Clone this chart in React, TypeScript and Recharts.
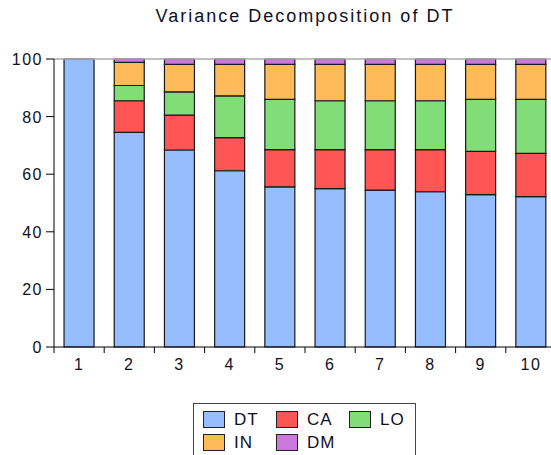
import React from 'react';
import { BarChart, Bar, XAxis, YAxis, ReferenceLine } from 'recharts';

const periods = ['1', '2', '3', '4', '5', '6', '7', '8', '9', '10'];
const dtValues = [100, 74.5, 68.4, 61.2, 55.6, 55.0, 54.5, 53.9, 52.9, 52.2];
const caValues = [0, 11.0, 12.1, 11.5, 12.9, 13.5, 14.0, 14.6, 15.0, 15.0];
const loValues = [0, 5.3, 8.1, 14.5, 17.5, 17.0, 17.0, 17.0, 18.1, 18.8];
const inValues = [0, 8.0, 9.5, 10.9, 12.1, 12.6, 12.6, 12.6, 12.1, 12.1];
const dmValues = [0, 1.2, 1.9, 1.9, 1.9, 1.9, 1.9, 1.9, 1.9, 1.9];
const yTicks = [0, 20, 40, 60, 80, 100];

const seriesNames = ['DT', 'CA', 'LO', 'IN', 'DM'];
const seriesColors = ['#96BEFF', '#FF5555', '#80DD77', '#FFBB5A', '#CC77DD'];

const data = periods.map((p, i) => ({
  period: p,
  DT: dtValues[i],
  CA: caValues[i],
  LO: loValues[i],
  IN: inValues[i],
  DM: dmValues[i],
}));

const FONT = '"Liberation Sans", Arial, sans-serif';
const TEXT = '#10101f';

const XTick = (props: any) => {
  const { x, y, payload } = props;
  const half = payload && payload.offset ? payload.offset : 25;
  return (
    <g>
      <line x1={x - half} x2={x - half} y1={y} y2={y + 6} stroke="#000" strokeWidth={1} />
      <text x={x} y={y + 23} textAnchor="middle" fontFamily={FONT} fontSize={16} letterSpacing={1.5} fill={TEXT}>
        {payload.value}
      </text>
    </g>
  );
};

const YTick = (props: any) => {
  const { x, y, payload } = props;
  return (
    <text x={x} y={y + 6} textAnchor="end" fontFamily={FONT} fontSize={16} letterSpacing={1.5} fill={TEXT}>
      {payload.value}
    </text>
  );
};

export default function App() {
  return (
    <div style={{ position: 'absolute', left: 0, top: 0, width: 551, height: 455, overflow: 'hidden', background: '#fff' }}>
      <div
        style={{
          position: 'absolute',
          left: 0,
          width: 610,
          top: 6,
          textAlign: 'center',
          fontFamily: FONT,
          fontSize: 18,
          letterSpacing: 2,
          color: TEXT,
        }}
      >
        Variance Decomposition of DT
      </div>
      <BarChart
        width={560}
        height={455}
        data={data}
        margin={{ top: 59, right: 4, bottom: 78, left: 10 }}
        barCategoryGap="20%"
      >
        <ReferenceLine y={100} stroke="#aaaaaa" strokeWidth={1.5} />
        <XAxis
          dataKey="period"
          axisLine={{ stroke: '#000' }}
          tickLine={false}
          tickSize={0}
          tickMargin={0}
          height={30}
          tick={<XTick />}
          interval={0}
        />
        <YAxis
          type="number"
          domain={[0, 100]}
          ticks={yTicks}
          width={44}
          axisLine={{ stroke: '#000' }}
          tickLine={{ stroke: '#000' }}
          tickSize={8}
          tickMargin={3}
          tick={<YTick />}
          interval={0}
        />
        {seriesNames.map((name, i) => (
          <Bar
            key={name}
            dataKey={name}
            stackId="a"
            fill={seriesColors[i]}
            stroke="#1a1a1a"
            strokeWidth={1.2}
            isAnimationActive={false}
          />
        ))}
      </BarChart>
      <div
        style={{
          position: 'absolute',
          left: 193,
          top: 403,
          width: 221,
          height: 60,
          border: '1.5px solid #444',
          fontFamily: FONT,
          fontSize: 17,
          letterSpacing: 1,
          color: TEXT,
        }}
      >
        {seriesNames.map((name, i) => {
          const col = i % 3;
          const row = Math.floor(i / 3);
          return (
            <div
              key={name}
              style={{
                position: 'absolute',
                left: 9 + col * 73,
                top: 7 + row * 23,
                display: 'flex',
                alignItems: 'center',
                height: 17,
              }}
            >
              <div
                style={{
                  width: 20,
                  height: 15,
                  background: seriesColors[i],
                  border: '1.2px solid #222',
                  marginRight: 9,
                }}
              />
              <span style={{ lineHeight: '17px' }}>{name}</span>
            </div>
          );
        })}
      </div>
    </div>
  );
}
